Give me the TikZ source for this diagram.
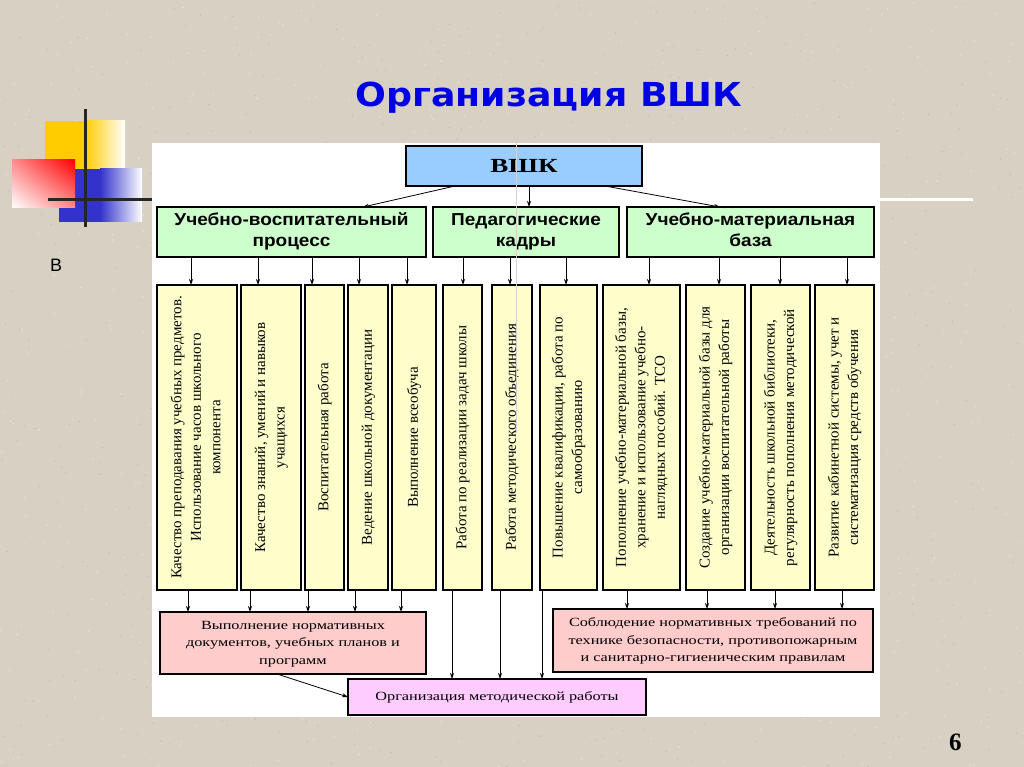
\documentclass[tikz,border=0pt]{standalone}
\usepackage{graphicx}
\usepackage{fontspec}
\setmainfont{Liberation Serif}
\newfontfamily\arialf{Liberation Sans}
\newfontfamily\titlef{DejaVu Sans}
\usetikzlibrary{arrows.meta,shadings}
\definecolor{bgc}{RGB}{215,208,195}
\definecolor{vskc}{RGB}{153,204,255}
\definecolor{grc}{RGB}{204,255,204}
\definecolor{ylc}{RGB}{255,255,204}
\definecolor{pkc}{RGB}{255,204,204}
\definecolor{vlc}{RGB}{255,204,255}
\definecolor{titc}{RGB}{0,0,230}
\definecolor{decy}{RGB}{255,204,0}
\definecolor{decb}{RGB}{51,51,204}
\definecolor{decr}{RGB}{255,0,0}
\newcommand{\vtext}[1]{\rotatebox{90}{\fontsize{15}{19.5}\selectfont\begin{tabular}{@{}c@{}}#1\end{tabular}}}
\newcommand{\htext}[1]{\scalebox{1.3}[1]{\fontsize{12.5}{17.5}\selectfont\begin{tabular}{@{}c@{}}#1\end{tabular}}}
\newcommand{\gtext}[1]{\scalebox{1.1}[1]{\arialf\bfseries\fontsize{17.3}{20}\selectfont\begin{tabular}{@{}c@{}}#1\end{tabular}}}
\tikzset{
  bx/.style={draw=black, line width=1.3pt, inner sep=0pt, outer sep=0pt},
  colbox/.style={bx, fill=ylc, minimum height=305pt},
  grbox/.style={bx, fill=grc, minimum height=50pt},
  arr/.style={-{Stealth[length=6pt,width=4pt]}, line width=0.8pt, draw=black},
  speck/.style={fill=bgc!70!black, opacity=0.35},
  speckl/.style={fill=bgc!40!white, opacity=0.6},
}
\begin{document}
\begin{tikzpicture}[x=1pt,y=-1pt]
\useasboundingbox (0,0) rectangle (1024,767);
\fill[bgc] (0,0) rectangle (1024,767);
% paper texture
\pgfmathsetseed{7}
\foreach \i in {1,...,700}{
  \pgfmathsetmacro\rx{rnd*1024}\pgfmathsetmacro\ry{rnd*767}
  \fill[speck] (\rx,\ry) circle (0.7pt);
  \pgfmathsetmacro\sx{rnd*1024}\pgfmathsetmacro\sy{rnd*767}
  \fill[speckl] (\sx,\sy) circle (0.9pt);
}
% decoration
\fill[decy] (45,121) rectangle (85,200);
\shade[left color=decy, right color=white] (85,121) rectangle (125,200);
\fill[decb] (59,169) rectangle (100,222);
\shade[left color=decb, right color=white] (100,169) rectangle (142,222);
\shade[upper right=decr, lower left=white, upper left=decr!45!white, lower right=decr!45!white] (12,160) rectangle (75,208);
\draw[black!85, line width=3pt] (85,109) -- (85,227);
\draw[black!85, line width=3pt] (48,200) -- (152,200);
\draw[white, line width=3pt] (880,200) -- (973,200);
% title etc.
\node[anchor=base, text=titc, inner sep=0pt] (title) at (549,107) {\scalebox{1.1}[1]{\titlef\bfseries\fontsize{33}{36}\selectfont Организация ВШК}};
\node[anchor=base west, inner sep=0pt] (vlabel) at (50,271) {\arialf\fontsize{18}{20}\selectfont В};
\node[anchor=base west, inner sep=0pt] (pnum) at (949,750) {\bfseries\fontsize{25}{28}\selectfont 6};
% panel
\fill[white] (152,143) rectangle (880,717);
% boxes
\node[bx, fill=vskc, minimum width=236pt, minimum height=40pt] (vsk) at (524,166) {\scalebox{1.35}[1]{\bfseries\fontsize{20}{22}\selectfont ВШК}};
\node[grbox, minimum width=269pt] (g1) at (291.5,232) {\gtext{Учебно-воспитательный\\процесс}};
\node[grbox, minimum width=186pt] (g2) at (526,232) {\gtext{Педагогические\\кадры}};
\node[grbox, minimum width=247pt] (g3) at (750.5,232) {\gtext{Учебно-материальная\\база}};
\node[colbox, minimum width=80pt] (c1) at (197,437.5) {\vtext{Качество преподавания учебных предметов.\\Использование часов школьного\\компонента}};
\node[colbox, minimum width=60pt] (c2) at (271,437.5) {\vtext{Качество знаний, умений и навыков\\учащихся}};
\node[colbox, minimum width=39pt] (c3) at (324.5,437.5) {\vtext{Воспитательная работа}};
\node[colbox, minimum width=40pt] (c4) at (368,437.5) {\vtext{Ведение школьной документации}};
\node[colbox, minimum width=44pt] (c5) at (414,437.5) {\vtext{Выполнение всеобуча}};
\node[colbox, minimum width=39pt] (c6) at (462.5,437.5) {\vtext{Работа по реализации задач школы}};
\node[colbox, minimum width=40pt] (c7) at (512,437.5) {\vtext{Работа методического объединения}};
\node[colbox, minimum width=57pt] (c8) at (568.5,437.5) {\vtext{Повышение квалификации, работа по\\самообразованию}};
\node[colbox, minimum width=77pt] (c9) at (641.5,437.5) {\vtext{Пополнение учебно-материальной базы,\\хранение и использование учебно-\\наглядных пособий. ТСО}};
\node[colbox, minimum width=59pt] (c10) at (715.5,437.5) {\vtext{Создание учебно-материальной базы для\\организации воспитательной работы}};
\node[colbox, minimum width=59pt] (c11) at (780.5,437.5) {\vtext{Деятельность школьной библиотеки,\\регулярность пополнения методической}};
\node[colbox, minimum width=59pt] (c12) at (844.5,437.5) {\vtext{Развитие кабинетной системы, учет и\\систематизация средств обучения}};
\node[bx, fill=pkc, minimum width=266pt, minimum height=62pt] (p1) at (293,643) {\htext{Выполнение нормативных\\документов, учебных планов и\\программ}};
\node[bx, fill=pkc, minimum width=320pt, minimum height=63pt] (p2) at (713,640.5) {\htext{Соблюдение нормативных требований по\\технике безопасности, противопожарным\\и санитарно-гигиеническим правилам}};
\node[bx, fill=vlc, minimum width=298pt, minimum height=36pt] (org) at (497,697) {\htext{Организация методической работы}};
% connectors
\draw[arr] (455,0 |- vsk.south) -- (363,0 |- g1.north);
\draw[arr] (529,0 |- vsk.south) -- (529,0 |- g2.north);
\draw[arr] (605,0 |- vsk.south) -- (720,0 |- g3.north);
\foreach \c/\xi/\xo/\g/\t in {c1/191/188/g1/p1, c2/258/250/g1/p1, c3/312/308/g1/p1, c4/359/355/g1/p1, c5/407/401/g1/p1, c6/463/452/g2/org, c7/510/500/g2/org, c8/566/542/g2/org, c9/649/627/g3/p2, c10/719/707/g3/p2, c11/780/775/g3/p2, c12/847/842/g3/p2}{
  \draw[arr] (\xi,0 |- \g.south) -- (\xi,0 |- \c.north);
  \draw[arr] (\xo,0 |- \c.south) -- (\xo,0 |- \t.north);
}
\draw[arr] (277,0 |- p1.south) -- (org.west);
% scan artifact line
\draw[gray!35, line width=0.8pt] (516,143) -- (516,433);
\end{tikzpicture}
\end{document}
